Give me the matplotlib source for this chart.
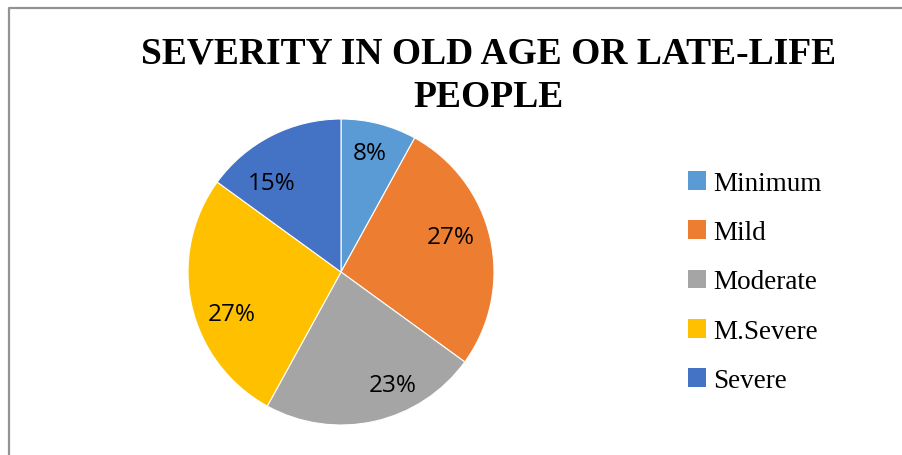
import matplotlib
matplotlib.use("Agg")
import matplotlib.pyplot as plt
from matplotlib.lines import Line2D
from matplotlib.patches import Patch

categories = ["Minimum", "Mild", "Moderate", "M.Severe", "Severe"]
shares = [8, 27, 23, 27, 15]
colors = ["#5B9BD5", "#ED7D31", "#A5A5A5", "#FFC000", "#4472C4"]
title = "SEVERITY IN OLD AGE OR LATE-LIFE\nPEOPLE"

# best-fit nudges for the percentage labels, in pixels (x right, y up)
label_nudge = [(-1, 3), (-7, 9), (26, 3), (7, -16), (-15, -17)]

W, H = 903, 456
fig = plt.figure(figsize=(W / 100, H / 100), dpi=100)

# chart frame (left and top edges)
fig.add_artist(Line2D([9 / W, 9 / W, 1.0], [0.0, 1 - 9 / H, 1 - 9 / H],
                      transform=fig.transFigure, color="#939393", lw=1.6))

cx, cy, r = 341, 273, 153
ax = fig.add_axes([(cx - r) / W, (H - cy - r) / H, 2 * r / W, 2 * r / H])
wedges, texts, autotexts = ax.pie(
    shares, colors=colors, startangle=90, counterclock=False,
    autopct=lambda p: f"{p:.0f}%", pctdistance=0.78,
    wedgeprops=dict(edgecolor="white", linewidth=0.8),
    textprops=dict(fontsize=17.5, family="Open Sans", color="#000000"),
)
ax.set_xlim(-1, 1)
ax.set_ylim(-1, 1)
ax.set_aspect("equal")
ax.axis("off")

for t, (dx, dy) in zip(autotexts, label_nudge):
    x, y = t.get_position()
    t.set_position((x + dx / r, y + dy / r))

fig.text(489 / W, 1 - 36 / H, title, ha="center", va="top",
         fontsize=27, fontweight="bold", family="Liberation Serif",
         linespacing=1.32)

handles = [Patch(facecolor=c, edgecolor="none") for c in colors]
fig.legend(handles, categories, loc="center left",
           bbox_to_anchor=(688 / W, 1 - 283 / H), frameon=False,
           prop=dict(family="Liberation Serif", size=19.5),
           handlelength=0.68, handleheight=0.68, handletextpad=0.25,
           labelspacing=0.9, borderpad=0, borderaxespad=0)

fig.savefig("out.png", dpi=100)
